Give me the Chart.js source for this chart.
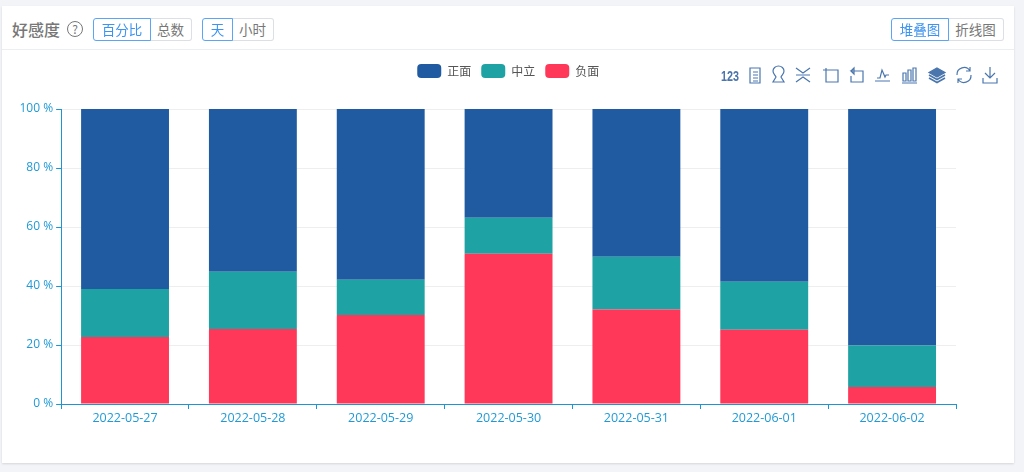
<!DOCTYPE html>
<html>
<head>
<meta charset="utf-8">
<script src="https://cdn.jsdelivr.net/npm/chart.js@4"></script>
<style>
html, body { margin: 0; padding: 0; width: 1024px; height: 472px; overflow: hidden; background: #f3f4f7; font-family: "Noto Sans CJK SC", "Noto Sans", sans-serif; }
#card { position: absolute; left: 2px; top: 6px; width: 1012px; height: 457px; background: #fff; box-shadow: 0 1px 2px rgba(0,0,0,.12); }
#line { position: absolute; left: 2px; top: 49px; width: 1012px; height: 1px; background: #eceef0; }
#title { position: absolute; left: 12px; top: 17px; font-size: 16px; line-height: 24px; font-weight: 500; color: #777; }
#help { position: absolute; left: 67px; top: 21px; width: 14px; height: 14px; border: 1.5px solid #777; border-radius: 50%; color: #777; font-size: 12px; line-height: 14px; text-align: center; }
.btn { position: absolute; top: 18px; height: 21px; line-height: 21px; font-size: 13.5px; text-align: center; color: #777; border: 1px solid #dcdfe3; background: #fff; box-sizing: content-box; }
.btn.on { color: #3d93f0; border-color: #5aa5f5; z-index: 1; }
.l { border-radius: 3px 0 0 3px; }
.r { border-radius: 0 3px 3px 0; }
canvas { position: absolute; left: 0; top: 0; }
#tools { position: absolute; left: 0; top: 0; }
</style>
</head>
<body>
<div id="card"></div>
<div id="line"></div>
<div id="title">好感度</div>
<div id="help">?</div>
<div class="btn on l" style="left:93px;width:56px">百分比</div>
<div class="btn r" style="left:150px;width:41px;border-left:0">总数</div>
<div class="btn on l" style="left:202px;width:29px">天</div>
<div class="btn r" style="left:232px;width:41px;border-left:0">小时</div>
<div class="btn on l" style="left:891px;width:56px">堆叠图</div>
<div class="btn r" style="left:948px;width:55px;border-left:0">折线图</div>
<canvas id="chart" width="1024" height="472"></canvas>
<svg id="tools" width="1024" height="472" fill="none" stroke="#4a76ad" stroke-width="1.2">
  <text x="721" y="81" font-family="Liberation Sans" font-weight="bold" font-size="14" textLength="18" lengthAdjust="spacingAndGlyphs" fill="#4a76ad" stroke="none">123</text>
  <path d="M750 68h10v15h-10zM753 72h5M753 75h5M753 78h5M753 81h5"/>
  <path d="M773 71a5.500 5 0 1 1 11 0c0 3-2 4-3 6l3 5h-11l3-5c-1-2-3-3-3-6z"/>
  <path d="M796 68l7 5 7-5M796 82l7-5 7 5M796 75h14"/>
  <path d="M824 70h14v12h-12v-14M823 70h3"/>
  <path d="M851 71l3-3v6l-3-3h12v11h-12v-6"/>
  <path d="M875 81h15M877 78h3l2-8 3 7 1-2h3"/>
  <path d="M903 73h3v8h-3zM908 70h3v11h-3zM913 68h3v13h-3zM902 83h15"/>
  <path d="M937 68l8 4.500-8 4.500-8-4.500z" fill="#4a76ad"/>
  <path d="M929 75l8 4.500 8-4.500M929 78l8 4.500 8-4.500" stroke-width="1.600"/>
  <path d="M957 75a7 7 0 0 1 13-4M971 75a7 7 0 0 1-13 4M970 67v4h-4M958 83v-4h4"/>
  <path d="M990 67v11M985 73l5 5 5-5M983 78v5h14v-5"/>
</svg>
<script>
var dates = ["2022-05-27", "2022-05-28", "2022-05-29", "2022-05-30", "2022-05-31", "2022-06-01", "2022-06-02"];
var negative = [22.7, 25.4, 30.2, 50.9, 32, 25.2, 5.8];
var neutral = [16.3, 19.4, 11.9, 12.2, 17.9, 16.2, 14];
var positive = [61, 55.2, 57.9, 36.9, 50.1, 58.6, 80.2];

var axisColor = "#1f94d2";
var textColor = "#1f9ad6";

var chartData = {
	labels: dates,
	datasets: [
		{ label: "负面", data: negative, backgroundColor: "#ff3759" },
		{ label: "中立", data: neutral, backgroundColor: "#1fa2a3" },
		{ label: "正面", data: positive, backgroundColor: "#205ba2" }
	]
};

// room under the legend, and legend centred a bit right of the plot like the original
var legendShift = {
	id: "legendShift",
	beforeInit: function(chart) {
		var fit = chart.legend.fit;
		chart.legend.fit = function() {
			fit.bind(chart.legend)();
			this.height += 21;
		};
	},
	afterLayout: function(chart) {
		chart.legend.left += 22;
		chart.legend.right += 22;
	}
};

var config = {
	type: "bar",
	data: chartData,
	plugins: [legendShift],
	options: {
		responsive: false,
		animation: false,
		devicePixelRatio: 1,
		layout: { padding: { left: 16.5, right: 68, top: 54, bottom: 44 } },
		datasets: { bar: { barPercentage: 0.6875, categoryPercentage: 1 } },
		plugins: {
			tooltip: { enabled: false },
			legend: {
				position: "top",
				reverse: true,
				labels: {
					boxWidth: 24,
					boxHeight: 14,
					useBorderRadius: true,
					borderRadius: 4,
					color: "#555",
					padding: 10,
					font: { size: 12, family: "'Noto Sans CJK SC'" }
				}
			}
		},
		scales: {
			x: {
				stacked: true,
				border: { color: axisColor },
				grid: { drawOnChartArea: false, tickColor: axisColor, tickLength: 5 },
				ticks: { color: textColor, maxRotation: 0, padding: 2, font: { size: 12.5, family: "'Open Sans'" } }
			},
			y: {
				stacked: true,
				min: 0,
				max: 100,
				border: { color: axisColor },
				grid: { color: "#eeeeee", tickColor: axisColor, tickLength: 5 },
				ticks: {
					stepSize: 20,
					color: textColor,
					padding: 3,
					font: { size: 12, family: "'Open Sans'" },
					callback: function(value) { return value + " %"; }
				}
			}
		}
	}
};

var chart = new Chart(document.getElementById("chart"), config);
</script>
</body>
</html>
